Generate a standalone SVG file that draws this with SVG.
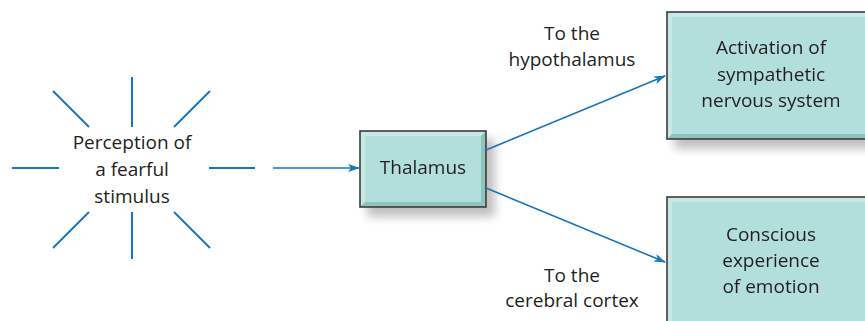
<svg xmlns="http://www.w3.org/2000/svg" width="865" height="321" viewBox="0 0 865 321">
  <defs>
    <filter id="shadow" x="-20%" y="-20%" width="150%" height="160%">
      <feGaussianBlur in="SourceAlpha" stdDeviation="5"/>
      <feOffset dx="8" dy="9" result="b"/>
      <feComponentTransfer><feFuncA type="linear" slope="0.25"/></feComponentTransfer>
      <feMerge><feMergeNode/><feMergeNode in="SourceGraphic"/></feMerge>
    </filter>
    <marker id="arrow" viewBox="0 0 12 8" refX="11" refY="4" markerWidth="12" markerHeight="8" markerUnits="userSpaceOnUse" orient="auto">
      <path d="M0,0 L12,4 L0,8 L3,4 Z" fill="#1a75bb"/>
    </marker>
    <style>
      .lbl { font-family: "Open Sans", "Noto Sans", sans-serif; font-size: 19px; fill: #231f20; text-anchor: middle; }
      .ray { stroke: #1a75bb; stroke-width: 2; fill: none; }
      .conn { stroke: #1a75bb; stroke-width: 1.6; fill: none; marker-end: url(#arrow); }
      .face { fill: #b2dedb; }
      .hi { fill: #c8e8e5; }
      .lo { fill: #8ec4be; }
      .edge { fill: none; stroke: #3b3b3b; stroke-width: 1.6; }
    </style>
  </defs>

  <rect width="865" height="321" fill="#ffffff"/>

  <!-- starburst around the stimulus -->
  <g id="stimulus">
    <line class="ray" x1="132" y1="77" x2="132" y2="127"/>
    <line class="ray" x1="132" y1="212" x2="132" y2="259"/>
    <line class="ray" x1="53" y1="91" x2="89" y2="127"/>
    <line class="ray" x1="210" y1="91" x2="174" y2="127"/>
    <line class="ray" x1="89" y1="212" x2="53" y2="248"/>
    <line class="ray" x1="174" y1="212" x2="210" y2="248"/>
    <line class="ray" x1="12" y1="168" x2="59" y2="168"/>
    <line class="ray" x1="209" y1="168" x2="255" y2="168"/>
    <text class="lbl" x="132" y="149">Perception of</text>
    <text class="lbl" x="132" y="176">a fearful</text>
    <text class="lbl" x="132" y="203">stimulus</text>
  </g>

  <!-- Thalamus -->
  <g id="thalamus" filter="url(#shadow)">
    <rect class="face" x="360" y="131" width="126" height="76"/>
    <polygon class="hi" points="360,131 486,131 481,136 365,136"/>
    <polygon class="hi" points="360,131 365,136 365,202 360,207"/>
    <polygon class="lo" points="360,207 365,202 481,202 486,207"/>
    <polygon class="lo" points="486,131 486,207 481,202 481,136"/>
    <rect class="edge" x="360" y="131" width="126" height="76"/>
    <text class="lbl" x="423" y="174">Thalamus</text>
  </g>

  <!-- Activation of sympathetic nervous system -->
  <g id="sympathetic" filter="url(#shadow)">
    <rect class="face" x="667" y="12" width="220" height="127"/>
    <polygon class="hi" points="667,12 887,12 882,17 672,17"/>
    <polygon class="hi" points="667,12 672,17 672,134 667,139"/>
    <polygon class="lo" points="667,139 672,134 882,134 887,139"/>
    <rect class="edge" x="667" y="12" width="220" height="127"/>
    <text class="lbl" x="771" y="54">Activation of</text>
    <text class="lbl" x="771" y="81">sympathetic</text>
    <text class="lbl" x="771" y="107">nervous system</text>
  </g>

  <!-- Conscious experience of emotion -->
  <g id="conscious" filter="url(#shadow)">
    <rect class="face" x="667" y="197" width="220" height="140"/>
    <polygon class="hi" points="667,197 887,197 882,202 672,202"/>
    <polygon class="hi" points="667,197 672,202 672,337 667,337"/>
    <rect class="edge" x="667" y="197" width="220" height="140"/>
    <text class="lbl" x="771" y="241">Conscious</text>
    <text class="lbl" x="771" y="267">experience</text>
    <text class="lbl" x="771" y="293">of emotion</text>
  </g>

  <!-- connectors -->
  <g id="connectors">
    <line class="conn" x1="273" y1="168" x2="359" y2="168"/>
    <line class="conn" x1="486" y1="150" x2="665" y2="76"/>
    <line class="conn" x1="486" y1="188" x2="665" y2="262"/>
    <text class="lbl" x="572" y="40">To the</text>
    <text class="lbl" x="572" y="66">hypothalamus</text>
    <text class="lbl" x="572" y="282">To the</text>
    <text class="lbl" x="572" y="307">cerebral cortex</text>
  </g>
</svg>
